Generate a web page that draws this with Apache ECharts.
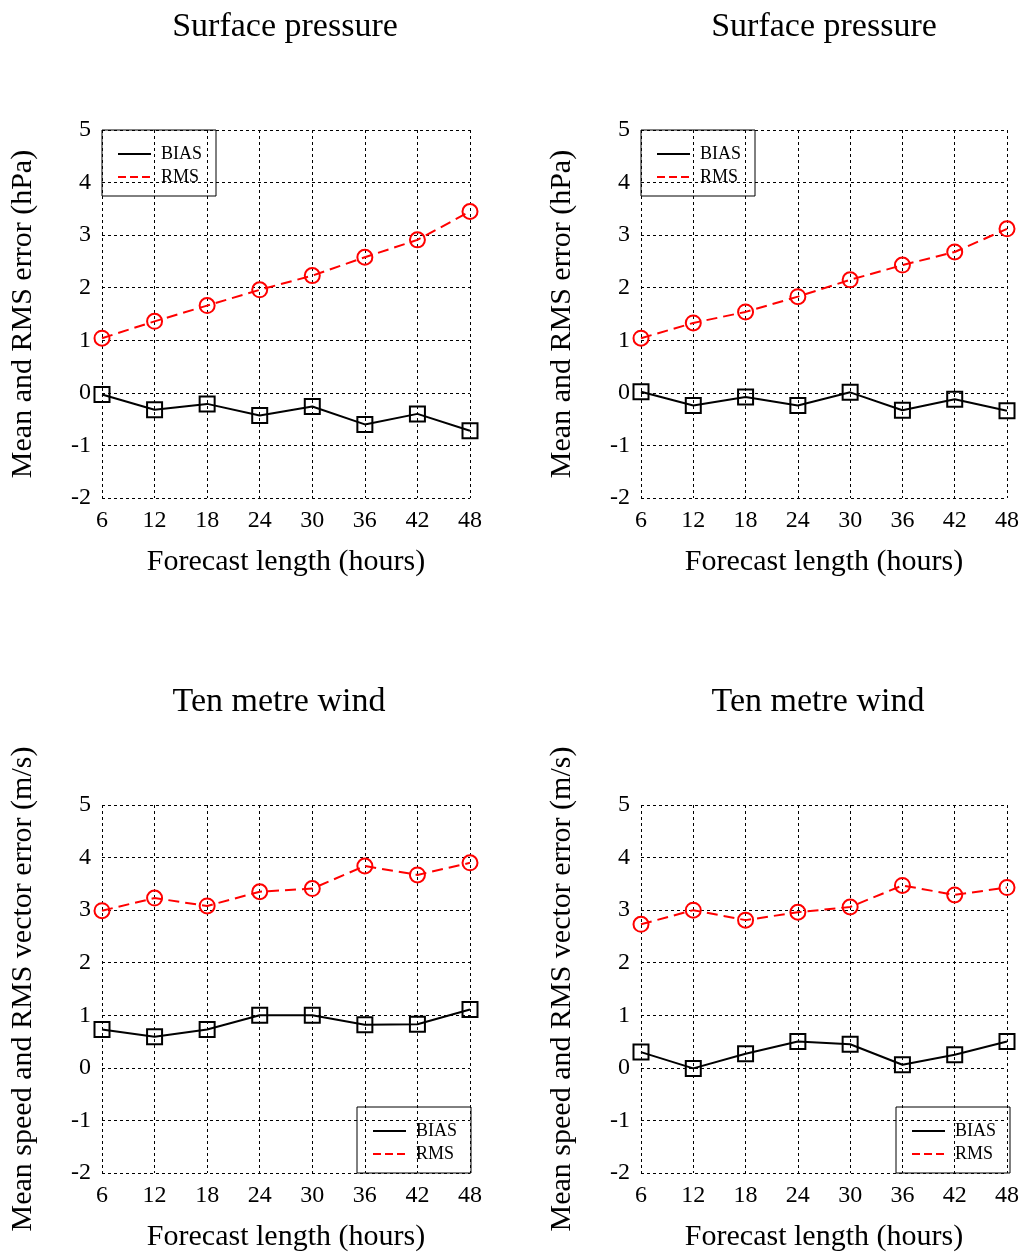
<!DOCTYPE html>
<html>
<head>
<meta charset="utf-8">
<title>Forecast verification</title>
<script src="https://cdn.jsdelivr.net/npm/echarts@6/dist/echarts.min.js"></script>
<style>
	html, body { margin: 0; padding: 0; background: #fff; }
	#main { width: 1022px; height: 1254px; }
</style>
</head>
<body>
<div id="main"></div>
<script>
var hours = [6, 12, 18, 24, 30, 36, 42, 48];
var yTicks = [-2, -1, 0, 1, 2, 3, 4, 5];

// surface pressure (hPa)
var pressBiasLeft  = [-0.03, -0.32, -0.21, -0.43, -0.26, -0.60, -0.40, -0.72];
var pressRmsLeft   = [1.04, 1.36, 1.66, 1.96, 2.23, 2.58, 2.91, 3.45];
var pressBiasRight = [0.02, -0.24, -0.08, -0.24, 0.01, -0.33, -0.12, -0.34];
var pressRmsRight  = [1.04, 1.33, 1.54, 1.83, 2.15, 2.43, 2.68, 3.12];

// ten metre wind (m/s)
var windBiasLeft  = [0.73, 0.59, 0.73, 1.00, 1.00, 0.82, 0.83, 1.11];
var windRmsLeft   = [2.99, 3.23, 3.08, 3.35, 3.41, 3.84, 3.67, 3.90];
var windBiasRight = [0.30, -0.01, 0.27, 0.50, 0.45, 0.06, 0.25, 0.50];
var windRmsRight  = [2.73, 3.00, 2.81, 2.96, 3.06, 3.47, 3.29, 3.43];

// layout of the four panels
var panels = [
	{title: 'Surface pressure', yName: 'Mean and RMS error (hPa)', bias: pressBiasLeft, rms: pressRmsLeft, left: 102, top: 130, titleX: 285, legend: 'top'},
	{title: 'Surface pressure', yName: 'Mean and RMS error (hPa)', bias: pressBiasRight, rms: pressRmsRight, left: 641, top: 130, titleX: 824, legend: 'top'},
	{title: 'Ten metre wind', yName: 'Mean speed and RMS vector error (m/s)', bias: windBiasLeft, rms: windRmsLeft, left: 102, top: 805, titleX: 279, legend: 'bottom'},
	{title: 'Ten metre wind', yName: 'Mean speed and RMS vector error (m/s)', bias: windBiasRight, rms: windRmsRight, left: 641, top: 805, titleX: 818, legend: 'bottom'}
];

var FONT = '"Liberation Serif", "Times New Roman", serif';
var SIZE = 368;
var gridLine = {show: true, lineStyle: {color: '#000', width: 1, type: [3, 3]}};

function pairs(values) {
	var out = [];
	for (var i = 0; i < hours.length; i++) {
		out.push([hours[i], values[i]]);
	}
	return out;
}

var option = {
	animation: false,
	backgroundColor: '#fff',
	title: [],
	grid: [],
	xAxis: [],
	yAxis: [],
	legend: [],
	series: []
};

panels.forEach(function(p, i) {
	option.title.push({
		text: p.title,
		left: p.titleX,
		top: p.top - 120,
		padding: 0,
		textAlign: 'center',
		textStyle: {fontFamily: FONT, fontSize: 34, fontWeight: 'normal', color: '#000'}
	});
	option.grid.push({left: p.left, top: p.top, width: SIZE, height: SIZE, containLabel: false});
	option.xAxis.push({
		type: 'value',
		gridIndex: i,
		min: 6, max: 48, interval: 6,
		name: 'Forecast length (hours)',
		nameLocation: 'middle',
		nameGap: 49,
		nameTextStyle: {fontFamily: FONT, fontSize: 30, color: '#000'},
		axisLine: {show: false},
		axisTick: {show: false},
		axisLabel: {fontFamily: FONT, fontSize: 24, color: '#000', margin: 11},
		splitLine: gridLine
	});
	option.yAxis.push({
		type: 'value',
		gridIndex: i,
		min: yTicks[0], max: yTicks[yTicks.length - 1], interval: 1,
		name: p.yName,
		nameLocation: 'middle',
		nameGap: 64,
		nameTextStyle: {fontFamily: FONT, fontSize: 30, color: '#000'},
		axisLine: {show: false},
		axisTick: {show: false},
		axisLabel: {fontFamily: FONT, fontSize: 24, color: '#000', margin: 11},
		splitLine: gridLine
	});

	var legend = {
		orient: 'vertical',
		selectedMode: false,
		padding: [15, 14, 10, 15],
		itemWidth: 33,
		itemHeight: 14,
		itemGap: 5,
		borderColor: '#000',
		borderWidth: 1,
		borderRadius: 0,
		backgroundColor: 'transparent',
		textStyle: {fontFamily: FONT, fontSize: 18, color: '#000', padding: [0, 0, 0, 5]},
		data: [
			{name: 'BIAS', itemStyle: {opacity: 0}, lineStyle: {color: '#000', width: 2, type: 'solid'}},
			{name: 'RMS', itemStyle: {opacity: 0}, lineStyle: {color: '#ff0000', width: 2, type: [8, 4]}}
		]
	};
	if (p.legend == 'top') {
		legend.left = p.left;
		legend.top = p.top;
	} else {
		legend.left = p.left + SIZE - 113;
		legend.top = p.top + SIZE - 66;
	}
	option.legend.push(legend);

	option.series.push({
		name: 'BIAS',
		type: 'line',
		xAxisIndex: i, yAxisIndex: i,
		data: pairs(p.bias),
		symbol: 'rect',
		symbolSize: 15,
		lineStyle: {color: '#000', width: 2},
		itemStyle: {color: 'transparent', borderColor: '#000', borderWidth: 2},
		z: 3
	});
	option.series.push({
		name: 'RMS',
		type: 'line',
		xAxisIndex: i, yAxisIndex: i,
		data: pairs(p.rms),
		symbol: 'circle',
		symbolSize: 15,
		lineStyle: {color: '#ff0000', width: 2, type: [11, 6]},
		itemStyle: {color: 'transparent', borderColor: '#ff0000', borderWidth: 2},
		z: 3
	});
});

var myChart = echarts.init(document.getElementById('main'), null, {renderer: 'canvas'});
myChart.setOption(option);
</script>
</body>
</html>
